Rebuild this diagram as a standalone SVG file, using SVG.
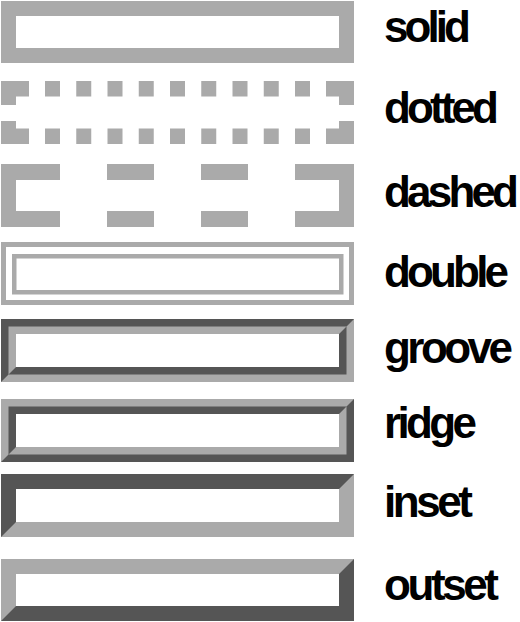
<svg xmlns="http://www.w3.org/2000/svg" width="520" height="622" viewBox="0 0 520 622">
<style>
.l{fill:#aaaaaa}
.d{fill:#555555}
.w{fill:#ffffff}
.t{font-family:"Liberation Sans",Arial,sans-serif;font-weight:bold;font-size:44px;fill:#000000}
</style>
<rect x="0" y="0" width="520" height="622" fill="#ffffff"/>
<g id="solid">
<rect class="l" x="1" y="1" width="353" height="62"/>
<rect class="w" x="16" y="16" width="323" height="32"/>
<text class="t" x="384" y="42" textLength="87" lengthAdjust="spacing">solid</text>
</g>
<g id="dotted">
<path class="l" d="M1,81H29V96.5H16V105H1Z M1,121H16V128.5H29V144H1Z M326,81H354V105H339V96.5H326Z M339,121H354V144H326V128.5H339Z"/>
<g class="l">
<rect x="45" y="81" width="15" height="15.5"/><rect x="76.25" y="81" width="15" height="15.5"/><rect x="107.5" y="81" width="15" height="15.5"/><rect x="138.75" y="81" width="15" height="15.5"/><rect x="170" y="81" width="15" height="15.5"/><rect x="201.25" y="81" width="15" height="15.5"/><rect x="232.5" y="81" width="15" height="15.5"/><rect x="263.75" y="81" width="15" height="15.5"/><rect x="295" y="81" width="15" height="15.5"/>
<rect x="45" y="128.5" width="15" height="15.5"/><rect x="76.25" y="128.5" width="15" height="15.5"/><rect x="107.5" y="128.5" width="15" height="15.5"/><rect x="138.75" y="128.5" width="15" height="15.5"/><rect x="170" y="128.5" width="15" height="15.5"/><rect x="201.25" y="128.5" width="15" height="15.5"/><rect x="232.5" y="128.5" width="15" height="15.5"/><rect x="263.75" y="128.5" width="15" height="15.5"/><rect x="295" y="128.5" width="15" height="15.5"/>
</g>
<text class="t" x="384" y="122.7" textLength="115" lengthAdjust="spacing">dotted</text>
</g>
<g id="dashed">
<path class="l" d="M1,164H60V180H16V211H60V227H1Z M354,164H295V180H339V211H295V227H354Z"/>
<rect class="l" x="107" y="164" width="47" height="16"/>
<rect class="l" x="107" y="211" width="47" height="16"/>
<rect class="l" x="201" y="164" width="47" height="16"/>
<rect class="l" x="201" y="211" width="47" height="16"/>
<text class="t" x="384" y="206.7" textLength="135" lengthAdjust="spacing">dashed</text>
</g>
<g id="double">
<rect x="3.5" y="244.5" width="348" height="58" fill="none" stroke="#aaaaaa" stroke-width="5"/>
<rect x="14.25" y="256.25" width="327" height="36" fill="none" stroke="#aaaaaa" stroke-width="4.5"/>
<text class="t" x="384" y="286.7" textLength="125" lengthAdjust="spacing">double</text>
</g>
<g id="groove">
<rect class="d" x="1" y="319" width="353" height="63"/>
<polygon class="l" points="354,319 354,382 1,382 16,367 339,367 339,334"/>
<rect class="l" x="8.5" y="326.5" width="338" height="48"/>
<polygon class="d" points="346.5,326.5 346.5,374.5 8.5,374.5 16,367 339,367 339,334"/>
<rect class="w" x="16" y="334" width="323" height="33"/>
<text class="t" x="384" y="363.3" textLength="129" lengthAdjust="spacing">groove</text>
</g>
<g id="ridge">
<rect class="l" x="1" y="399" width="353" height="63"/>
<polygon class="d" points="354,399 354,462 1,462 16,447 339,447 339,414"/>
<rect class="d" x="8.5" y="406.5" width="338" height="48"/>
<polygon class="l" points="346.5,406.5 346.5,454.5 8.5,454.5 16,447 339,447 339,414"/>
<rect class="w" x="16" y="414" width="323" height="33"/>
<text class="t" x="384" y="438" textLength="93" lengthAdjust="spacing">ridge</text>
</g>
<g id="inset">
<rect class="d" x="1" y="474" width="353" height="63"/>
<polygon class="l" points="354,474 354,537 1,537 16,522 339,522 339,489"/>
<rect class="w" x="16" y="489" width="323" height="33"/>
<text class="t" x="384" y="516.7" textLength="89" lengthAdjust="spacing">inset</text>
</g>
<g id="outset">
<rect class="l" x="1" y="559" width="353" height="62"/>
<polygon class="d" points="354,559 354,621 1,621 16,606 339,606 339,574"/>
<rect class="w" x="16" y="574" width="323" height="32"/>
<text class="t" x="384" y="600" textLength="115" lengthAdjust="spacing">outset</text>
</g>
</svg>
